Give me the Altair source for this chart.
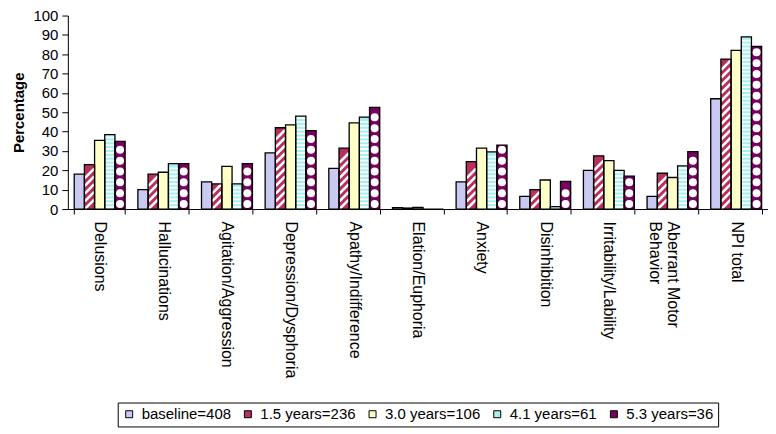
import altair as alt
import pandas as pd

categories = ["Delusions", "Hallucinations", "Agitation/Aggression", "Depression/Dysphoria",
              "Apathy/Indifference", "Elation/Euphoria", "Anxiety", "Disinhibition",
              "Irritability/Lability", "Aberrant Motor Behavior", "NPI total"]
series = ["baseline=408", "1.5 years=236", "3.0 years=106", "4.1 years=61", "5.3 years=36"]

baseline = [18, 10, 14, 29, 21, 0.7, 14, 6.5, 20, 6.5, 57]
y1_5 = [23, 18, 13, 42, 31.5, 0.5, 24.5, 10, 27.5, 18.5, 77.5]
y3_0 = [35.5, 19, 22, 43.5, 44.5, 0.8, 31.5, 15, 25, 16.3, 82]
y4_1 = [38.5, 23.5, 13, 48, 47.5, 0, 29.5, 1.2, 20, 22.3, 89]
y5_3 = [35, 23.5, 23.5, 40.5, 52.5, 0, 33, 14.3, 17, 29.7, 84]

colors = ["#C9C9F2", "#B8305C", "#FFFFC8", "#A8F0F0", "#7A0062"]

rows = []
for s, vals in zip(series, [baseline, y1_5, y3_0, y4_1, y5_3]):
    for c, v in zip(categories, vals):
        rows.append({"cat": c, "series": s, "value": v})
df = pd.DataFrame(rows)

FONT = "Liberation Sans"

x_enc = alt.X("cat:N", sort=categories,
              scale=alt.Scale(paddingInner=0.2, paddingOuter=0.1),
              axis=alt.Axis(title=None, labelAngle=90, labelAlign="left", labelBaseline="middle",
                            labelFontSize=16, labelPadding=7, tickBand="extent", tickSize=5,
                            labelLimit=300,
                            labelExpr="datum.value == 'Aberrant Motor Behavior' ? ['Aberrant Motor', 'Behavior'] : datum.value"))
xo_enc = alt.XOffset("series:N", sort=series, scale=alt.Scale(paddingInner=0, paddingOuter=0))
y_scale = alt.Scale(domain=[0, 100], nice=False)
y_axis = alt.Axis(values=list(range(0, 101, 10)), title="Percentage", titleFontSize=15,
                  titleFontWeight="bold", titlePadding=6, labelFontSize=15, tickSize=6,
                  labelPadding=4, grid=False)

base = alt.Chart(df).encode(x=x_enc, xOffset=xo_enc)

bars = base.mark_bar(strokeWidth=0).encode(
    y=alt.Y("value:Q", scale=y_scale, axis=y_axis),
    fill=alt.Fill("series:N", sort=series, scale=alt.Scale(domain=series, range=colors),
                  legend=alt.Legend(title=None, orient="none", legendX=50, legendY=388,
                                    direction="horizontal", strokeColor="black", fillColor="white",
                                    padding=4, symbolType="square", symbolSize=49,
                                    symbolStrokeColor="black", symbolStrokeWidth=1,
                                    labelFontSize=15, labelOffset=5, columnPadding=9)),
)

stripes = base.transform_filter(alt.datum.series == series[1]).transform_calculate(
    s="sequence(2.4, datum.value - 2.2, 4)").transform_flatten(["s"]).mark_point(
    shape="M -1 1 L 1 -1", filled=False, stroke="white", strokeWidth=2.6, size=90, opacity=1
).encode(y=alt.Y("s:Q", scale=y_scale, axis=y_axis, title="Percentage"))

hlines = base.transform_filter(alt.datum.series == series[3]).transform_calculate(
    s="sequence(1, datum.value - 0.5, 2)").transform_flatten(["s"]).mark_point(
    shape="M -1 0 L 1 0", filled=False, stroke="white", strokeWidth=1.8, size=100, opacity=1
).encode(y=alt.Y("s:Q", scale=y_scale, axis=y_axis, title="Percentage"))

circles = base.transform_filter(alt.datum.series == series[4]).transform_calculate(
    s="sequence(2.6, datum.value - 2.2, 5.6)").transform_flatten(["s"]).mark_point(
    shape="circle", filled=True, fill="white", strokeWidth=0, size=64, opacity=1
).encode(y=alt.Y("s:Q", scale=y_scale, axis=y_axis, title="Percentage"))

outline = base.mark_bar(fillOpacity=0, stroke="black", strokeWidth=1.3).encode(
    y=alt.Y("value:Q", scale=y_scale, axis=y_axis))

chart = alt.layer(bars, stripes, hlines, circles, outline).properties(
    width=702, height=194,
    autosize=alt.AutoSizeParams(type="none"),
    padding={"left": 60, "top": 7, "right": 0, "bottom": 222},
).configure_view(stroke=None).configure_axis(
    labelFont=FONT, titleFont=FONT, labelColor="black", titleColor="black",
    domainColor="black", tickColor="black", domainWidth=1, tickWidth=1
).configure_legend(labelFont=FONT, labelColor="black")

chart.save("out.html", embed_options={"renderer": "svg", "actions": False})
